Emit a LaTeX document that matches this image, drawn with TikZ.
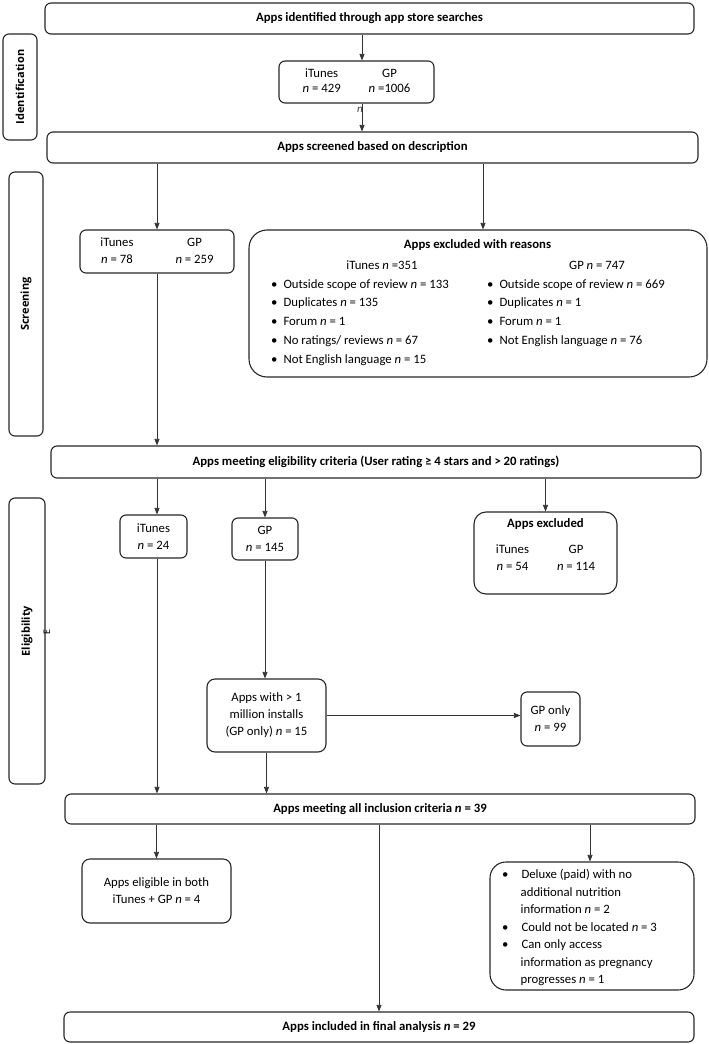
\documentclass[tikz,border=0pt]{standalone}
\usepackage{fontspec}
\setmainfont{Carlito}
\newfontfamily\sidefont{Open Sans}
\usetikzlibrary{arrows.meta}
\newcommand{\nn}{\textit{n}}

\begin{document}
\begin{tikzpicture}[x=1pt,y=1pt,yscale=-1,
	box/.style={draw=black!85, line width=1.1pt, rounded corners=6pt, align=center, inner sep=0pt, font=\fontsize{12.75}{17}\selectfont},
	side/.style={box, rotate=90, font=\sidefont\bfseries\fontsize{11}{12}\selectfont},
	arr/.style={draw=black!80, line width=0.7pt, -{Triangle[length=6.5pt,width=5pt]}},
	txt/.style={inner sep=0pt, align=left, font=\fontsize{12.75}{18.75}\selectfont}]
	\useasboundingbox (0,0) rectangle (709,1044);
	
	%Side labels
	\node (idl) at (20,87) [side, minimum width=106, minimum height=34] {Identification};
	\node (scl) at (26,304) [side, minimum width=264, minimum height=34] {Screening};
	\node (ell) at (27,641) [side, minimum width=286, minimum height=36] {\hspace*{20pt}Eligibility};
	
	%Identification
	\node (top) at (369.5,18.5) [box, minimum width=649, minimum height=31] {\textbf{Apps identified through app store searches}};
	\node (idn) at (356.5,82) [box, font=\fontsize{12.75}{15}\selectfont, minimum width=155, minimum height=42] {\begin{tabular}{@{}c@{\hspace{28pt}}c@{}}iTunes & GP\\ \nn{} = 429 & \nn{} =1006\end{tabular}};
	% Text Node
	\node (strayn) at (360,110) [inner sep=0pt, text=black!75, font=\fontsize{11}{12}\selectfont] {\textit{n}};
	\node (scr) at (372.5,147.5) [box, minimum width=651, minimum height=31] {\textbf{Apps screened based on description}};
	
	%Screening
	\node (scr1) at (157,251.5) [box, minimum width=154, minimum height=43] {\begin{tabular}{@{}c@{\hspace{42pt}}c@{}}iTunes & GP\\ \nn{} = 78 & \nn{} = 259\end{tabular}};
	\node (excl) at (478,303.5) [box, rounded corners=18pt, minimum width=458, minimum height=147] {};
	% Text Node
	\node (exclt) at (477.5,245) [txt] {\textbf{Apps excluded with reasons}};
	\node (exclh1) at (382,265) [txt] {iTunes \nn{} =351};
	\node (exclh2) at (597,265) [txt] {GP \nn{} = 747};
	\node (excll) at (271,279) [txt, anchor=north west] {%
		•\hspace{6pt}Outside scope of review \nn{} = 133\\
		•\hspace{6pt}Duplicates \nn{} = 135\\
		•\hspace{6pt}Forum \nn{} = 1\\
		•\hspace{6pt}No ratings/ reviews \nn{} = 67\\
		•\hspace{6pt}Not English language \nn{} = 15};
	\node (exclr) at (487,279) [txt, anchor=north west] {%
		•\hspace{6pt}Outside scope of review \nn{} = 669\\
		•\hspace{6pt}Duplicates \nn{} = 1\\
		•\hspace{6pt}Forum \nn{} = 1\\
		•\hspace{6pt}Not English language \nn{} = 76};
	\node (elig) at (376,462) [box, minimum width=650, minimum height=32] {\textbf{Apps meeting eligibility criteria (User rating ≥ 4 stars and > 20 ratings)}};
	
	%Eligibility
	% Text Node
	\node (straye) at (47,632) [inner sep=0pt, rotate=90, font=\fontsize{10}{11}\selectfont] {E};
	\node (itn) at (153.5,536.5) [box, minimum width=67, minimum height=43] {iTunes\\ \nn{} = 24};
	\node (gpn) at (265,539) [box, minimum width=66, minimum height=42] {GP\\ \nn{} = 145};
	\node (exc2) at (545.5,553) [box, rounded corners=12pt, minimum width=143, minimum height=82] {};
	% Text Node
	\node (exc2t) at (545.5,518) [anchor=north, inner sep=0pt, align=center, font=\fontsize{12.75}{17}\selectfont] {\textbf{Apps excluded}\\[11pt]
		\begin{tabular}{@{}c@{\hspace{28pt}}c@{}}iTunes & GP\\ \nn{} = 54 & \nn{} = 114\end{tabular}};
	\node (inst) at (266.5,715.5) [box, rounded corners=8pt, minimum width=119, minimum height=73] {Apps with > 1\\ million installs\\ (GP only) \nn{} = 15};
	\node (gpo) at (550.5,719) [box, minimum width=59, minimum height=54] {GP only\\ \nn{} = 99};
	\node (incl) at (380,809) [box, minimum width=630, minimum height=30] {\textbf{Apps meeting all inclusion criteria \nn{} = 39}};
	
	%Included
	\node (both) at (156.5,891) [box, rounded corners=8pt, minimum width=149, minimum height=64] {Apps eligible in both\\ iTunes + GP \nn{} = 4};
	\node (rsn) at (592,926) [box, rounded corners=16pt, minimum width=204, minimum height=128] {};
	% Text Node
	\node (rsnt) at (502,869) [inner sep=0pt, anchor=north west, align=left, font=\fontsize{12.75}{17.5}\selectfont] {%
		•\hspace{13pt}Deluxe (paid) with no\\
		\hspace{18.5pt}additional nutrition\\
		\hspace{18.5pt}information \nn{} = 2\\
		•\hspace{13pt}Could not be located \nn{} = 3\\
		•\hspace{13pt}Can only access\\
		\hspace{18.5pt}information as pregnancy\\
		\hspace{18.5pt}progresses \nn{} = 1};
	\node (fin) at (379,1027) [box, minimum width=630, minimum height=30] {\textbf{Apps included in final analysis \nn{} = 29}};
	
	%Arrows
	\draw[arr] ([xshift=5.5pt]idn.north |- top.south) -- ([xshift=5.5pt]idn.north);
	\draw[arr] ([xshift=5.5pt]idn.south) -- ([xshift=5.5pt]idn.south |- scr.north);
	\draw[arr] (scr1.north |- scr.south) -- (scr1.north);
	\draw[arr] ([xshift=5pt]excl.north |- scr.south) -- ([xshift=5pt]excl.north);
	\draw[arr] (scr1.south) -- (scr1.south |- elig.north);
	\draw[arr] ([xshift=3.5pt]itn.north |- elig.south) -- ([xshift=3.5pt]itn.north);
	\draw[arr] (gpn.north |- elig.south) -- (gpn.north);
	\draw[arr] (exc2.north |- elig.south) -- (exc2.north);
	\draw[arr] (gpn.south) -- (gpn.south |- inst.north);
	\draw[arr] (inst.east) -- (inst.east -| gpo.west);
	\draw[arr] ([xshift=3.5pt]itn.south) -- ([xshift=3.5pt]itn.south |- incl.north);
	\draw[arr] (inst.south) -- (inst.south |- incl.north);
	\draw[arr] (both.north |- incl.south) -- (both.north);
	\draw[arr] (fin.north |- incl.south) -- (fin.north);
	\draw[arr] ([xshift=-2pt]rsn.north |- incl.south) -- ([xshift=-2pt]rsn.north);
\end{tikzpicture}
\end{document}
